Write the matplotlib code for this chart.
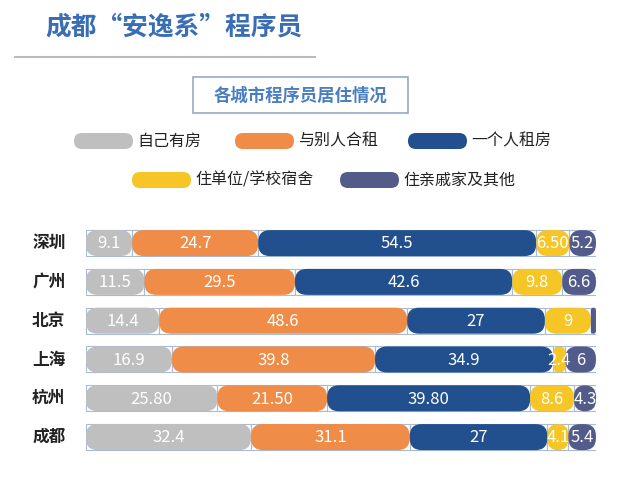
import matplotlib
matplotlib.use('Agg')
import matplotlib.pyplot as plt
from matplotlib.patches import FancyBboxPatch, Rectangle
import numpy as np

plt.rcParams['font.family'] = ['Noto Sans CJK SC', 'DejaVu Sans']

cities = ['深圳', '广州', '北京', '上海', '杭州', '成都']
categories = ['自己有房', '与别人合租', '一个人租房', '住单位/学校宿舍', '住亲戚家及其他']
own = [9.1, 11.5, 14.4, 16.9, 25.8, 32.4]
share = [24.7, 29.5, 48.6, 39.8, 21.5, 31.1]
alone = [54.5, 42.6, 27, 34.9, 39.8, 27]
dorm = [6.5, 9.8, 9, 2.4, 8.6, 4.1]
relatives = [5.2, 6.6, 1, 6, 4.3, 5.4]
label_text = [
    ['9.1', '24.7', '54.5', '6.50', '5.2'],
    ['11.5', '29.5', '42.6', '9.8', '6.6'],
    ['14.4', '48.6', '27', '9', ''],
    ['16.9', '39.8', '34.9', '2.4', '6'],
    ['25.80', '21.50', '39.80', '8.6', '4.3'],
    ['32.4', '31.1', '27', '4.1', '5.4'],
]
colors = ['#BFBFBF', '#EF8C47', '#22508E', '#F6C526', '#525B8A']

series = np.array([own, share, alone, dorm, relatives])

fig = plt.figure(figsize=(6.26, 4.78), dpi=100)

# bar chart area
ax = fig.add_axes([0.137, 0.045, 0.815, 0.487])
ax.set_xlim(0, 100)
ax.set_ylim(5.5, -0.5)
ax.axis('off')

h = 0.67
px_x = 100 / (0.815 * 626)
px_y = 6 / (0.487 * 478)
aspect = px_y / px_x
left = np.zeros(len(cities))
for k in range(len(categories)):
    vals = series[k]
    ax.barh(range(len(cities)), vals, left=left, height=h, color='white',
            edgecolor='#A9BAD2', linewidth=0.8, zorder=1)
    for i, v in enumerate(vals):
        r = min(12 * px_x, v / 2)
        p = FancyBboxPatch((left[i], i - h / 2), v, h,
                           boxstyle='round,pad=0,rounding_size=%f' % r,
                           mutation_aspect=aspect, facecolor=colors[k],
                           edgecolor='none', zorder=2)
        ax.add_patch(p)
        t = label_text[i][k]
        if t:
            ax.text(left[i] + v / 2, i + 0.02, t, ha='center', va='center',
                    color='white', fontsize=12, zorder=3)
    left = left + vals

for i, c in enumerate(cities):
    ax.text(-4, i, c, ha='right', va='center', fontsize=12,
            fontweight='bold', color='#222222')

# header: title, subtitle box, legend (pixel coordinates)
hd = fig.add_axes([0, 0, 1, 1], zorder=-1)
hd.set_xlim(0, 626)
hd.set_ylim(478, 0)
hd.axis('off')

hd.text(45, 27, '成都“安逸系”程序员', fontsize=18.5, fontweight='bold',
        color='#3A6EB4', va='center', ha='left')
hd.plot([15, 315], [57, 57], color='#BBBBBB', lw=1.5)

hd.add_patch(Rectangle((193, 77), 215, 36, facecolor='white',
                       edgecolor='#93A9C8', lw=1.2))
hd.text(300.5, 96, '各城市程序员居住情况', fontsize=12.5, fontweight='bold',
        color='#4A7EC0', ha='center', va='center')

legend_pos = [(74, 141), (235, 141), (408, 141), (132, 180), (340, 180)]
for (x0, yc), c, name in zip(legend_pos, colors, categories):
    hd.add_patch(FancyBboxPatch((x0, yc - 8), 59, 16,
                                boxstyle='round,pad=0,rounding_size=8',
                                facecolor=c, edgecolor='none'))
    hd.text(x0 + 63, yc, name, fontsize=11.5, color='#222222',
            fontweight='medium', ha='left', va='center')

fig.savefig('out.png', dpi=100)
